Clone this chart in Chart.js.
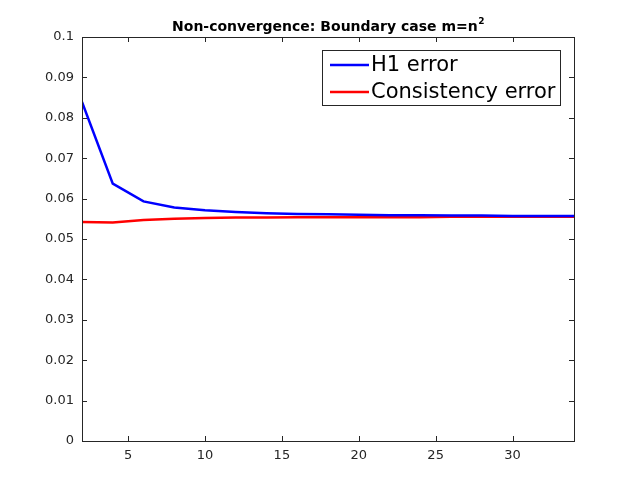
<!DOCTYPE html>
<html>
<head>
<meta charset="utf-8">
<script src="https://cdn.jsdelivr.net/npm/chart.js@4"></script>
<style>
  html, body { margin: 0; padding: 0; background: #fff; }
  #wrap { width: 634px; height: 496px; }
</style>
</head>
<body>
<div id="wrap"><canvas id="chart" width="634" height="496"></canvas></div>
<script>
// data
const nValues = [2, 4, 6, 8, 10, 12, 14, 16, 18, 20, 22, 24, 26, 28, 30, 32, 34];
const h1Error = [0.0839, 0.0637, 0.0593, 0.0578, 0.0571, 0.0567, 0.0564, 0.0562, 0.0561, 0.0560, 0.0559, 0.0559, 0.0558, 0.0558, 0.0557, 0.0557, 0.0557];
const consistencyError = [0.0542, 0.0541, 0.0547, 0.0550, 0.0552, 0.0553, 0.0553, 0.0554, 0.0554, 0.0554, 0.0554, 0.0554, 0.0555, 0.0555, 0.0555, 0.0555, 0.0555];
const xTicks = [5, 10, 15, 20, 25, 30];
const seriesNames = ['H1 error', 'Consistency error'];
const seriesColors = ['#0000ff', '#ff0000'];

const FONT = '"DejaVu Sans", sans-serif';
const TEXT = '#262626';

function toPoints(xs, ys) {
    return xs.map(function (x, i) { return { x: x, y: ys[i] }; });
}

// box, inward ticks, title and legend, drawn the MATLAB way
const matlabFrame = {
    id: 'matlabFrame',
    afterDraw: function (chart) {
        const ctx = chart.ctx;
        const a = chart.chartArea;
        const xs = chart.scales.x;
        const ys = chart.scales.y;
        ctx.save();
        ctx.strokeStyle = TEXT;
        ctx.lineWidth = 1;
        ctx.strokeRect(Math.round(a.left) + 0.5, Math.round(a.top) + 0.5,
            Math.round(a.right - a.left), Math.round(a.bottom - a.top));

        const tl = 5;
        ctx.beginPath();
        xTicks.forEach(function (v) {
            const px = Math.round(xs.getPixelForValue(v)) + 0.5;
            ctx.moveTo(px, a.bottom); ctx.lineTo(px, a.bottom - tl);
            ctx.moveTo(px, a.top); ctx.lineTo(px, a.top + tl);
        });
        ys.ticks.forEach(function (t) {
            const py = Math.round(ys.getPixelForValue(t.value)) + 0.5;
            ctx.moveTo(a.left, py); ctx.lineTo(a.left + tl, py);
            ctx.moveTo(a.right, py); ctx.lineTo(a.right - tl, py);
        });
        ctx.stroke();

        // title with superscript
        ctx.fillStyle = '#000';
        ctx.textBaseline = 'alphabetic';
        const main = 'Non-convergence: Boundary case m=n';
        ctx.font = 'bold 14px ' + FONT;
        const w1 = ctx.measureText(main).width;
        ctx.font = 'bold 9px ' + FONT;
        const w2 = ctx.measureText('2').width;
        const cx = (a.left + a.right) / 2;
        const x0 = cx - (w1 + w2) / 2;
        ctx.font = 'bold 14px ' + FONT;
        ctx.textAlign = 'left';
        ctx.fillText(main, x0, 31);
        ctx.font = 'bold 9px ' + FONT;
        ctx.fillText('2', x0 + w1 + 0.5, 24);

        // legend
        const lx = 322, ly = 50, lw = 238, lh = 55;
        ctx.fillStyle = '#fff';
        ctx.fillRect(lx, ly, lw, lh);
        ctx.strokeStyle = TEXT;
        ctx.strokeRect(lx + 0.5, ly + 0.5, lw, lh);
        ctx.font = '21px ' + FONT;
        ctx.textBaseline = 'middle';
        seriesNames.forEach(function (name, i) {
            const yy = ly + 15 + i * 27;
            ctx.strokeStyle = seriesColors[i];
            ctx.lineWidth = 2.5;
            ctx.beginPath();
            ctx.moveTo(lx + 8, yy); ctx.lineTo(lx + 47, yy);
            ctx.stroke();
            ctx.fillStyle = '#000';
            ctx.fillText(name, lx + 49, yy + 1);
        });
        ctx.restore();
    }
};

new Chart(document.getElementById('chart'), {
    type: 'line',
    data: {
        datasets: [
            {
                label: seriesNames[0],
                data: toPoints(nValues, h1Error),
                borderColor: seriesColors[0],
                borderWidth: 2.5,
                pointRadius: 0,
                tension: 0
            },
            {
                label: seriesNames[1],
                data: toPoints(nValues, consistencyError),
                borderColor: seriesColors[1],
                borderWidth: 2.5,
                pointRadius: 0,
                tension: 0
            }
        ]
    },
    options: {
        responsive: false,
        animation: false,
        events: [],
        layout: { padding: { top: 37, right: 60, left: 0, bottom: 0 } },
        plugins: {
            legend: { display: false },
            tooltip: { enabled: false },
            title: { display: false }
        },
        scales: {
            x: {
                type: 'linear',
                min: 2,
                max: 34,
                afterBuildTicks: function (scale) {
                    scale.ticks = xTicks.map(function (v) { return { value: v }; });
                },
                afterFit: function (scale) { scale.height = 55; },
                grid: { display: false, drawTicks: false },
                border: { display: false },
                ticks: {
                    color: TEXT,
                    font: { family: FONT, size: 13 },
                    padding: 7,
                    maxRotation: 0
                }
            },
            y: {
                min: 0,
                max: 0.1,
                afterFit: function (scale) { scale.width = 82; },
                grid: { display: false, drawTicks: false },
                border: { display: false },
                ticks: {
                    stepSize: 0.01,
                    color: TEXT,
                    font: { family: FONT, size: 13 },
                    padding: 8,
                    callback: function (v) { return String(Math.round(v * 100) / 100); }
                }
            }
        }
    },
    plugins: [matlabFrame]
});
</script>
</body>
</html>
